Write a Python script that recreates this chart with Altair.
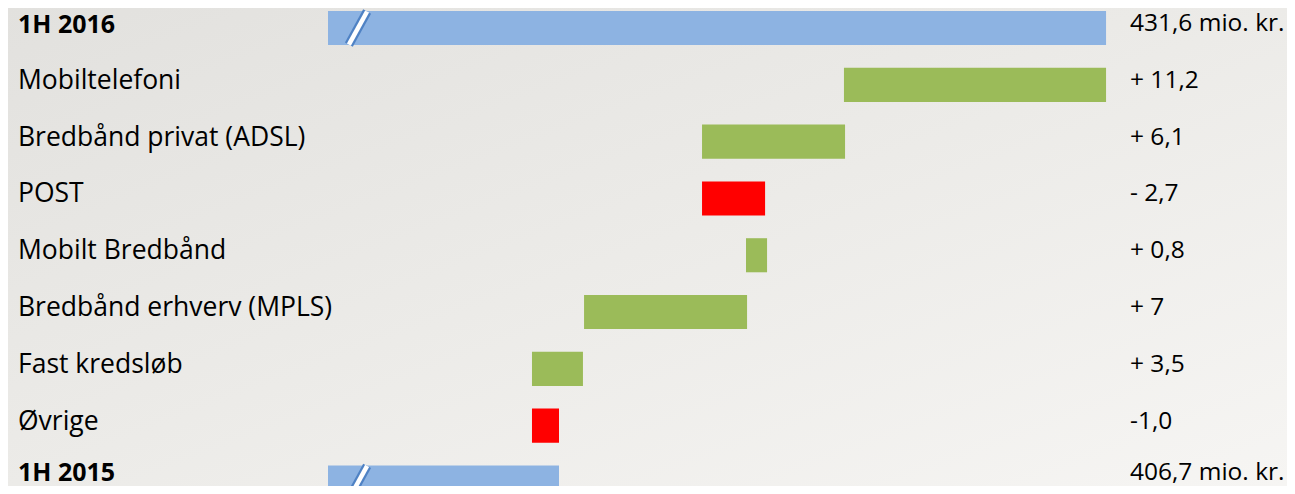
import altair as alt
import pandas as pd

# ---- data ----
categories = ["1H 2016", "Mobiltelefoni", "Bredbånd privat (ADSL)", "POST",
              "Mobilt Bredbånd", "Bredbånd erhverv (MPLS)", "Fast kredsløb",
              "Øvrige", "1H 2015"]
kinds = ["total", "up", "up", "down", "up", "up", "up", "down", "total"]
# bar extents in mio. kr. (totals start at the broken axis)
bar_start = [None, 419.67, 413.21, 413.21, 415.21, 407.84, 405.47, 405.47, None]
bar_end = [431.6, 431.6, 419.72, 416.08, 416.17, 415.26, 407.79, 406.70, 406.7]
value_labels = ["431,6 mio. kr.", "+ 11,2", "+ 6,1", "- 2,7", "+ 0,8", "+ 7",
                "+ 3,5", "-1,0", "406,7 mio. kr."]

df = pd.DataFrame({
    "category": categories,
    "kind": kinds,
    "start": bar_start,
    "end": bar_end,
    "label": value_labels,
})

W, H = 1279, 478
FONT = "Open Sans"
FS = 26.5
LAST = categories[-1]

y_enc = alt.Y("category:N", sort=categories, axis=None,
              scale=alt.Scale(domain=categories, range=[0, 494.5],
                              paddingInner=0.4, paddingOuter=0.053))
x_scale = alt.Scale(domain=[381.62, 440.20], range=[0, 1287], nice=False, zero=False)
color_enc = alt.Color("kind:N", legend=None,
                      scale=alt.Scale(domain=["total", "up", "down"],
                                      range=["#8DB3E2", "#9BBB59", "#FF0000"]))

bg = alt.Chart(pd.DataFrame({"a": [0]})).mark_rect(
    color=alt.Gradient(gradient="linear",
                       stops=[alt.GradientStop(color="#e2e1de", offset=0),
                              alt.GradientStop(color="#ecebe8", offset=0.5),
                              alt.GradientStop(color="#f6f5f3", offset=1)],
                       x1=0, y1=0, x2=1, y2=1)
).encode(x=alt.value(0), x2=alt.value(W), y=alt.value(0), y2=alt.value(H))

base = alt.Chart(df)
is_total = alt.datum.kind == "total"
not_total = alt.datum.kind != "total"
is_last = alt.datum.category == LAST
not_last = alt.datum.category != LAST

totals = base.transform_filter(is_total).mark_rect().encode(
    x=alt.X("end:Q", scale=x_scale, axis=None),
    x2=alt.value(320),
    y=y_enc,
    color=color_enc,
)

changes = base.transform_filter(not_total).mark_rect().encode(
    x=alt.X("start:Q", scale=x_scale, axis=None),
    x2="end:Q",
    y=y_enc,
    color=color_enc,
)

brk_edge = base.transform_filter(is_total).mark_point(
    shape="M-0.55,1L0.55,-1", size=1100, filled=False, strokeWidth=9,
    color="#4f82c4", opacity=1
).encode(x=alt.value(350), y=y_enc)

brk_white = base.transform_filter(is_total).mark_point(
    shape="M-0.55,1L0.55,-1", size=1100, filled=False, strokeWidth=4.5,
    color="#ffffff", opacity=1
).encode(x=alt.value(350), y=y_enc)

names_bold_top = base.transform_filter(is_total).transform_filter(not_last).mark_text(
    align="left", baseline="middle", font=FONT, fontSize=25, fontWeight="bold",
    color="#000000", dy=-3
).encode(x=alt.value(10), y=y_enc, text="category:N")

names_bold_last = base.transform_filter(is_last).mark_text(
    align="left", baseline="middle", font=FONT, fontSize=25, fontWeight="bold",
    color="#000000", dy=-9
).encode(x=alt.value(10), y=y_enc, text="category:N")

names = base.transform_filter(not_total).mark_text(
    align="left", baseline="middle", font=FONT, fontSize=FS,
    color="#000000", dy=-4
).encode(x=alt.value(10), y=y_enc, text="category:N")

vals = base.transform_filter(not_last).mark_text(
    align="left", baseline="middle", font=FONT, fontSize=24.5,
    color="#000000", dy=-4
).encode(x=alt.value(1122), y=y_enc, text="label:N")

vals_last = base.transform_filter(is_last).mark_text(
    align="left", baseline="middle", font=FONT, fontSize=24.5,
    color="#000000", dy=-9
).encode(x=alt.value(1122), y=y_enc, text="label:N")

chart = alt.layer(bg, totals, changes, brk_edge, brk_white,
                  names_bold_top, names_bold_last, names, vals, vals_last).properties(
    width=W, height=H, padding=0, autosize="none", background="#ecebe8"
).configure_view(strokeWidth=0)

chart.save("out.html", embed_options={"renderer": "svg", "actions": False})
